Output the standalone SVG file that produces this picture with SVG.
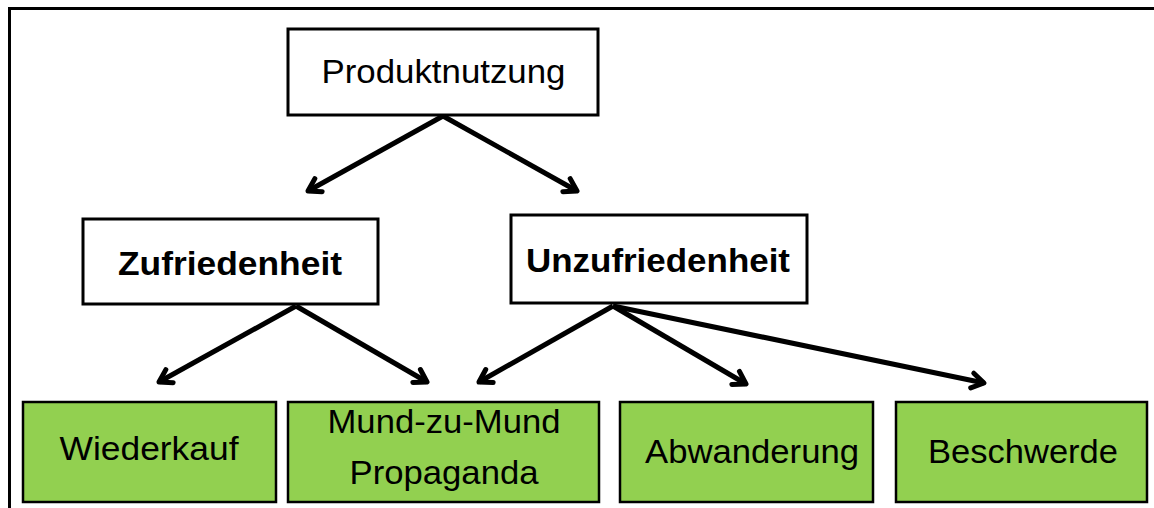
<svg xmlns="http://www.w3.org/2000/svg" width="1154" height="508" viewBox="0 0 1154 508">
<style>
.box{fill:#fff;stroke:#000;stroke-width:3}
.g{fill:#92D050;stroke:#000;stroke-width:2.5}
.t{font-family:"Liberation Sans",Arial,sans-serif;font-size:33px;fill:#000;text-anchor:middle}
.b{font-weight:bold;font-size:33px}
.c{stroke:#000;stroke-width:5;fill:none;marker-end:url(#ah)}
</style>
<defs>
<marker id="ah" markerUnits="userSpaceOnUse" markerWidth="30" markerHeight="30" viewBox="-15 -15 30 30" refX="0" refY="0" orient="auto" overflow="visible">
<path d="M-12,-7.5 L0,0 L-12,7.5" fill="none" stroke="#000" stroke-width="5" stroke-linecap="round" stroke-linejoin="round"/>
</marker>
</defs>
<rect width="1154" height="508" fill="#fff"/>
<g id="frame" stroke="#000" stroke-width="3" fill="none">
<line x1="8" y1="8.5" x2="1154" y2="8.5"/>
<line x1="9.5" y1="7" x2="9.5" y2="508"/>
</g>
<g id="connectors">
<line class="c" x1="443" y1="116" x2="308" y2="191"/>
<line class="c" x1="443" y1="116" x2="577" y2="191"/>
<line class="c" x1="296" y1="306" x2="159" y2="382"/>
<line class="c" x1="296" y1="306" x2="427" y2="382"/>
<line class="c" x1="613" y1="306" x2="479" y2="382"/>
<line class="c" x1="613" y1="306" x2="746" y2="384"/>
<line class="c" x1="613" y1="306" x2="984" y2="383"/>
</g>
<g id="n-produktnutzung">
<rect class="box" x="288" y="29" width="310" height="86"/>
<text class="t" x="443.5" y="83" textLength="244" lengthAdjust="spacingAndGlyphs">Produktnutzung</text>
</g>
<g id="n-zufriedenheit">
<rect class="box" x="83" y="219" width="295" height="85"/>
<text class="t b" x="230" y="275" textLength="224" lengthAdjust="spacingAndGlyphs">Zufriedenheit</text>
</g>
<g id="n-unzufriedenheit">
<rect class="box" x="511" y="215" width="296" height="88"/>
<text class="t b" x="658" y="272" textLength="264" lengthAdjust="spacingAndGlyphs">Unzufriedenheit</text>
</g>
<g id="n-wiederkauf">
<rect class="g" x="23" y="402" width="253" height="100"/>
<text class="t" x="149" y="460" textLength="179" lengthAdjust="spacingAndGlyphs">Wiederkauf</text>
</g>
<g id="n-mund">
<rect class="g" x="288" y="402" width="311" height="100"/>
<text class="t" x="444" y="433" textLength="233" lengthAdjust="spacingAndGlyphs">Mund-zu-Mund</text>
<text class="t" x="444" y="484" textLength="189" lengthAdjust="spacingAndGlyphs">Propaganda</text>
</g>
<g id="n-abwanderung">
<rect class="g" x="620" y="402" width="253" height="100"/>
<text class="t" x="752" y="463" textLength="214" lengthAdjust="spacingAndGlyphs">Abwanderung</text>
</g>
<g id="n-beschwerde">
<rect class="g" x="896" y="402" width="251" height="100"/>
<text class="t" x="1023" y="463" textLength="190" lengthAdjust="spacingAndGlyphs">Beschwerde</text>
</g>
</svg>
